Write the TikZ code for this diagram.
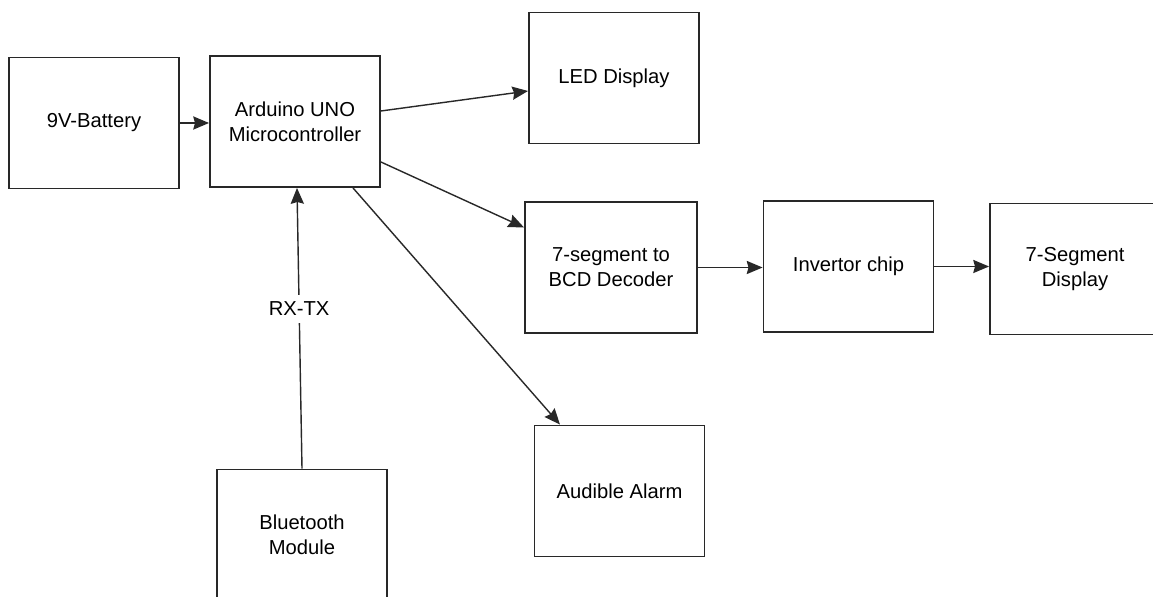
\documentclass[tikz,border=0pt]{standalone}
\usepackage{fontspec}
\setmainfont{Liberation Sans}
\usetikzlibrary{arrows.meta, positioning, calc}
\definecolor{boxline}{RGB}{40, 40, 40}

\begin{document}
\begin{tikzpicture}[x=0.02cm, y=-0.02cm,
      block/.style={rectangle, draw=boxline, line width=1.1pt, minimum width=3.4cm, minimum height=2.62cm, align=center, font=\fontsize{11.5}{14.2}\selectfont},
      link/.style={-{Stealth[length=9pt, width=7.5pt, inset=1pt]}, line width=0.8pt, boxline}
    ]
      \useasboundingbox (0,0) rectangle (1153,597);

      \node[block] (bat) at (94, 123) {9V-Battery};
      \node[block] (ard) at (295, 121.5) {Arduino UNO\\Microcontroller};
      \node[block] (led) at (614, 78) {LED Display};
      \node[block, minimum width=3.44cm] (dec) at (611, 267.5) {7-segment to\\BCD Decoder};
      \node[block] (inv) at (848.5, 266.5) {Invertor chip};
      \node[block] (seg) at (1075, 269) {7-Segment\\Display};
      \node[block] (alarm) at (619.5, 491) {Audible Alarm};
      \node[block] (bt) at (302, 535) {Bluetooth\\Module};

      \draw[link] (bat.east) -- (bat.east -| ard.west);
      \draw[link] ($(ard.east)+(0,-10.5)$) -- ($(led.west)+(0,13)$);
      \draw[link] ($(ard.east)+(0,40.5)$) -- ($(dec.west)+(0,-40)$);
      \draw[link] ($(ard.south)+(58,0)$) -- ($(alarm.north)+(-59.5,0)$);
      \draw[link] (dec.east) -- (dec.east -| inv.west);
      \draw[link] (inv.east) -- (inv.east -| seg.west);

      \draw[link] (bt.north) -- node[pos=0.57, fill=white, text=black, inner sep=4pt, font=\fontsize{11.5}{14.2}\selectfont] (rxtx) {RX-TX} ($(ard.south)+(2,0)$);
    \end{tikzpicture}
\end{document}
